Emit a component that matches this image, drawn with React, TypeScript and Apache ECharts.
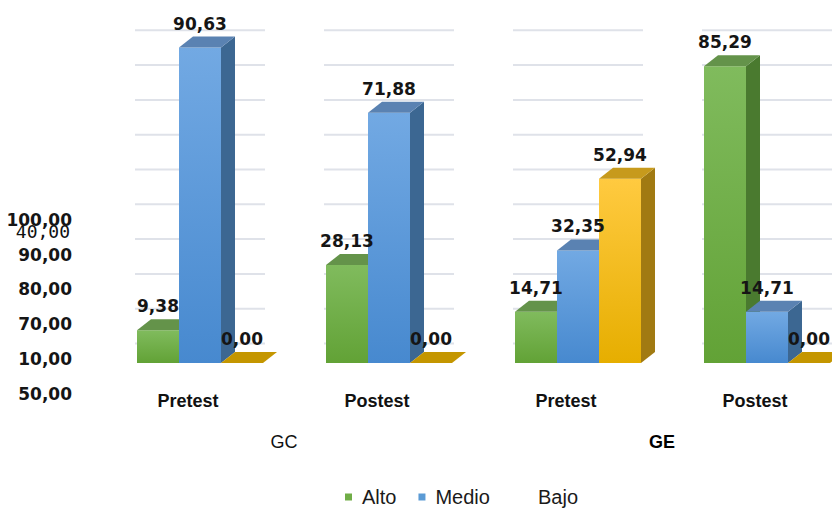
import React, { useEffect, useRef } from 'react';
import * as echarts from 'echarts';

const categories = ['Pretest', 'Postest', 'Pretest', 'Postest'];
const groups = ['GC', 'GE'];
const seriesNames = ['Alto', 'Medio', 'Bajo'];
const alto = [9.38, 28.13, 14.71, 85.29];
const medio = [90.63, 71.88, 32.35, 14.71];
const bajo = [0.0, 0.0, 52.94, 0.0];
const gridValues = [5.6, 15.6, 25.6, 35.6, 45.6, 55.6, 65.6, 75.6, 85.6, 95.6];
const yTickLabels = ['50,00', '10,00', '70,00', '80,00', '90,00', '100,00'];
const strayLabel = '40,00';

const BAR_FRAC = 42 / 189;
const DX = 14;
const DY = 11;

const palettes = [
  { top: '#64934a', side: '#4a7a2f', f0: '#80bb5d', f1: '#62a236', legend: '#70ad47' },
  { top: '#5a82b2', side: '#3c6792', f0: '#72a9e3', f1: '#4789cf', legend: '#5b9bd5' },
  { top: '#c79a1c', side: '#a17a12', f0: '#ffca40', f1: '#e6ae00', legend: 'rgba(0,0,0,0)' },
];

const fmt = (v: number) => v.toFixed(2).replace('.', ',');

function makeRender(si: number) {
  const p = palettes[si];
  return (params: any, api: any) => {
    const c = api.value(0);
    const v = api.value(1);
    const band = api.size([1, 0])[0];
    const bw = band * BAR_FRAC;
    const [cx, yTop] = api.coord([c, v]);
    const y0 = api.coord([c, 0])[1];
    const x0 = cx + (si - 1.5) * bw;
    const x1 = x0 + bw;
    const children: any[] = [];
    if (y0 - yTop > 0.5) {
      children.push({
        type: 'rect',
        z2: si * 10 + 1,
        shape: { x: x0, y: yTop, width: bw, height: y0 - yTop },
        style: {
          fill: new echarts.graphic.LinearGradient(0, 0, 0, 1, [
            { offset: 0, color: p.f0 },
            { offset: 1, color: p.f1 },
          ]),
        },
      });
      children.push({
        type: 'polygon',
        z2: si * 10 + 2,
        shape: { points: [[x1, yTop], [x1 + DX, yTop - DY], [x1 + DX, y0 - DY], [x1, y0]] },
        style: { fill: p.side },
      });
    }
    children.push({
      type: 'polygon',
      z2: si * 10 + 3,
      shape: { points: [[x0, yTop], [x1, yTop], [x1 + DX, yTop - DY], [x0 + DX, yTop - DY]] },
      style: { fill: v === 0 ? '#c49600' : p.top },
    });
    children.push({
      type: 'text',
      z2: 100,
      style: {
        text: fmt(v),
        x: x0 + bw / 2,
        y: yTop - 24,
        align: 'center',
        verticalAlign: 'middle',
        fill: '#151515',
        font: 'bold 17px "DejaVu Sans"',
      },
    });
    return { type: 'group', children };
  };
}

function gridRender(params: any, api: any) {
  const c = api.value(0);
  const band = api.size([1, 0])[0];
  const bw = band * BAR_FRAC;
  const cx = api.coord([c, 0])[0];
  return {
    type: 'group',
    children: gridValues.map((g) => {
      const y = api.coord([c, g])[1];
      return {
        type: 'line',
        z2: 0,
        shape: { x1: cx - 1.5 * bw - 2, y1: y, x2: cx + 1.5 * bw + 2, y2: y },
        style: { stroke: '#dfe2e9', lineWidth: 2 },
      };
    }),
  };
}

export default function App() {
  const ref = useRef<HTMLDivElement>(null);
  useEffect(() => {
    const chart = echarts.init(ref.current!, null, { renderer: 'svg' });
    const values = [alto, medio, bajo];
    const option: any = {
      animation: false,
      backgroundColor: '#ffffff',
      grid: [
        { left: 105.5, width: 756, top: 15, height: 348 },
        { left: 80, width: 5, top: 219.7, height: 174 },
      ],
      xAxis: [
        {
          type: 'category',
          gridIndex: 0,
          data: categories,
          axisLine: { show: false },
          axisTick: { show: false },
          splitLine: { show: false },
          axisLabel: {
            margin: 29,
            padding: [0, 24, 0, 0],
            fontFamily: '"Liberation Sans", Arial, sans-serif',
            fontWeight: 'bold',
            fontSize: 18,
            color: '#111',
          },
        },
        {
          type: 'category',
          gridIndex: 0,
          data: groups,
          position: 'bottom',
          offset: 62,
          axisLine: { show: false },
          axisTick: { show: false },
          splitLine: { show: false },
          axisLabel: {
            margin: 8,
            padding: [0, 21, 0, 0],
            formatter: (val: string, idx: number) => (idx === 1 ? `{b|${val}}` : `{a|${val}}`),
            rich: {
              a: { fontFamily: '"Liberation Sans", Arial, sans-serif', fontSize: 18, color: '#111' },
              b: { fontFamily: '"Liberation Sans", Arial, sans-serif', fontSize: 18, fontWeight: 'bold', color: '#000' },
            },
          },
        },
        { type: 'value', gridIndex: 1, show: false, min: 0, max: 1 },
      ],
      yAxis: [
        {
          type: 'value',
          gridIndex: 0,
          min: 0,
          max: 100,
          show: false,
          splitLine: { show: false },
        },
        {
          type: 'value',
          gridIndex: 1,
          min: 0,
          max: 5,
          interval: 1,
          axisLine: { show: false },
          axisTick: { show: false },
          splitLine: { show: false },
          axisLabel: {
            margin: 8,
            formatter: (v: number) => yTickLabels[Math.round(v)] ?? '',
            fontFamily: '"DejaVu Sans"',
            fontWeight: 'bold',
            fontSize: 17,
            color: '#151515',
          },
        },
      ],
      legend: [
        {
          data: [seriesNames[0], seriesNames[1]],
          left: 345,
          top: 487,
          padding: 0,
          itemWidth: 7,
          itemHeight: 7,
          itemGap: 22,
          icon: 'rect',
          selectedMode: false,
          textStyle: {
            fontFamily: '"Liberation Sans", Arial, sans-serif',
            fontSize: 20,
            color: '#1a1a1a',
            padding: [0, 0, 0, 5],
          },
        },
        {
          data: [seriesNames[2]],
          left: 521,
          top: 487,
          padding: 0,
          itemWidth: 7,
          itemHeight: 7,
          icon: 'rect',
          selectedMode: false,
          textStyle: {
            fontFamily: '"Liberation Sans", Arial, sans-serif',
            fontSize: 20,
            color: '#1a1a1a',
            padding: [0, 0, 0, 5],
          },
        },
      ],
      graphic: [
        {
          type: 'text',
          x: 70,
          y: 231,
          style: {
            text: strayLabel,
            font: '18px "DejaVu Sans Mono"',
            fill: '#111',
            align: 'right',
            verticalAlign: 'middle',
          },
        },
      ],
      series: [
        {
          type: 'custom',
          name: 'grid',
          xAxisIndex: 0,
          yAxisIndex: 0,
          z: 1,
          silent: true,
          data: categories.map((_, i) => [i, 0]),
          encode: { x: 0, y: 1 },
          renderItem: gridRender,
        },
        ...seriesNames.map((name, si) => ({
          type: 'custom',
          name,
          xAxisIndex: 0,
          yAxisIndex: 0,
          z: 2,
          itemStyle: { color: palettes[si].legend },
          data: values[si].map((v, i) => [i, v]),
          encode: { x: 0, y: 1 },
          renderItem: makeRender(si),
        })),
      ],
    };
    chart.setOption(option);
    return () => chart.dispose();
  }, []);
  return (
    <div
      ref={ref}
      style={{ position: 'fixed', left: 0, top: 0, width: 900, height: 509, background: '#fff' }}
    />
  );
}
